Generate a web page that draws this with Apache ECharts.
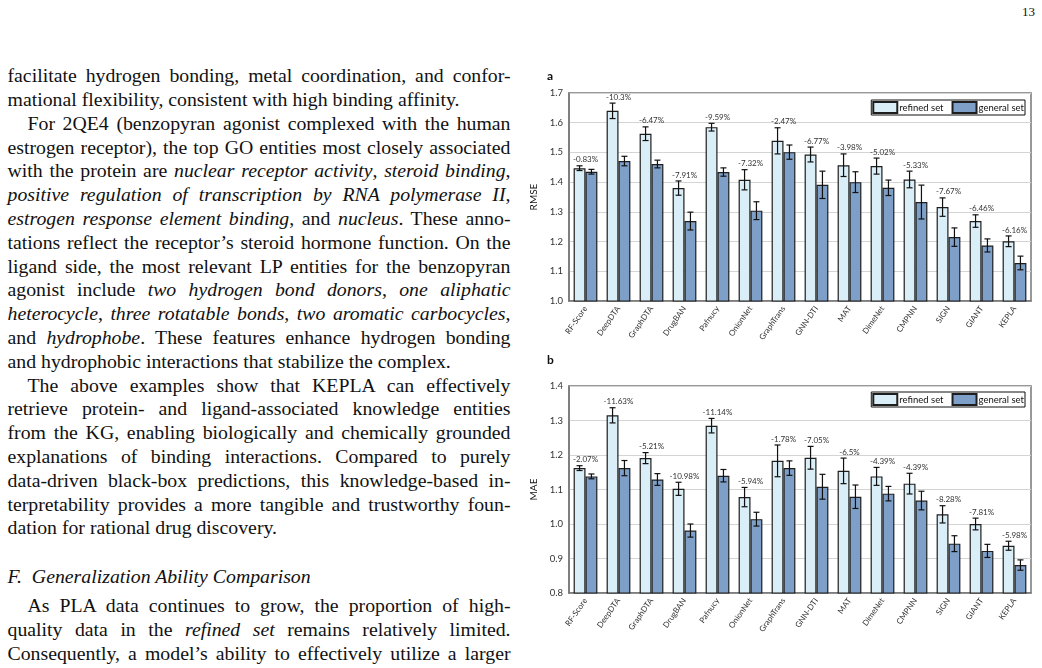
<!DOCTYPE html>
<html>
<head>
<meta charset="utf-8">
<script src="https://cdn.jsdelivr.net/npm/echarts@6/dist/echarts.min.js"></script>
<style>
  html, body { margin: 0; padding: 0; background: #fff; }
  body { width: 1042px; height: 668px; position: relative; overflow: hidden; }
  .ln { position: absolute; left: 7.5px; width: 503px; font-family: "Liberation Serif", "Times New Roman", serif;
        font-size: 19.8px; line-height: 23.8px; color: #111; white-space: normal; }
  .j { text-align: justify; text-align-last: justify; }
  .l { text-align: left; }
  .pg { position: absolute; left: 1000px; width: 35px; top: 4px; text-align: right;
        font-family: "Liberation Serif", serif; font-size: 13px; color: #111; }
  #chart { position: absolute; left: 520px; top: 0; width: 522px; height: 668px; }
</style>
</head>
<body>
<div class="pg">13</div>
<div id="text"></div>
<div id="chart"></div>
<script>
// ---------- page text ----------
const textLines = [
  ['j', 0, 'facilitate hydrogen bonding, metal coordination, and confor-'],
  ['l', 0, 'mational flexibility, consistent with high binding affinity.'],
  ['j', 1, 'For 2QE4 (benzopyran agonist complexed with the human'],
  ['j', 0, 'estrogen receptor), the top GO entities most closely associated'],
  ['j', 0, 'with the protein are <i>nuclear receptor activity</i>, <i>steroid binding</i>,'],
  ['j', 0, '<i>positive regulation of transcription by RNA polymerase II</i>,'],
  ['j', 0, '<i>estrogen response element binding</i>, and <i>nucleus</i>. These anno-'],
  ['j', 0, 'tations reflect the receptor\u2019s steroid hormone function. On the'],
  ['j', 0, 'ligand side, the most relevant LP entities for the benzopyran'],
  ['j', 0, 'agonist include <i>two hydrogen bond donors</i>, <i>one aliphatic</i>'],
  ['j', 0, '<i>heterocycle</i>, <i>three rotatable bonds</i>, <i>two aromatic carbocycles</i>,'],
  ['j', 0, 'and <i>hydrophobe</i>. These features enhance hydrogen bonding'],
  ['l', 0, 'and hydrophobic interactions that stabilize the complex.'],
  ['j', 1, 'The above examples show that KEPLA can effectively'],
  ['j', 0, 'retrieve protein- and ligand-associated knowledge entities'],
  ['j', 0, 'from the KG, enabling biologically and chemically grounded'],
  ['j', 0, 'explanations of binding interactions. Compared to purely'],
  ['j', 0, 'data-driven black-box predictions, this knowledge-based in-'],
  ['j', 0, 'terpretability provides a more tangible and trustworthy foun-'],
  ['l', 0, 'dation for rational drug discovery.'],
  ['l', 0, '<i>F.&nbsp;&nbsp;Generalization Ability Comparison</i>'],
  ['j', 1, 'As PLA data continues to grow, the proportion of high-'],
  ['j', 0, 'quality data in the <i>refined set</i> remains relatively limited.'],
  ['j', 0, 'Consequently, a model\u2019s ability to effectively utilize a larger']
];
const textBaselines = [83,107,131,155,178,202,226,250,274,297,321,345,369,393,416,440,464,488,512,535,584,613,637,661];
(function () {
  const holder = document.getElementById('text');
  textLines.forEach((t, i) => {
    const d = document.createElement('div');
    d.className = 'ln ' + t[0];
    d.style.top = (textBaselines[i] - 18.6) + 'px';
    if (t[1]) d.style.textIndent = '20px';
    d.innerHTML = t[2];
    holder.appendChild(d);
    let ls = 0;
    while (d.offsetHeight > 30 && ls > -1) { ls -= 0.05; d.style.letterSpacing = ls + 'px'; }
  });
})();

// ---------- chart data ----------
const categories = ['RF-Score','DeepDTA','GraphDTA','DrugBAN','Pafnucy','OnionNet','GraphTrans','GNN-DTI','MAT','DimeNet','CMPNN','SIGN','GIANT','KEPLA'];

const rmseRefined    = [1.447,1.640,1.563,1.380,1.585,1.408,1.539,1.493,1.457,1.454,1.409,1.316,1.269,1.201];
const rmseRefinedErr = [0.008,0.026,0.023,0.024,0.013,0.034,0.044,0.025,0.038,0.027,0.028,0.031,0.021,0.018];
const rmseGeneral    = [1.435,1.471,1.461,1.269,1.434,1.304,1.501,1.391,1.400,1.381,1.333,1.215,1.187,1.128];
const rmseGeneralErr = [0.008,0.016,0.013,0.030,0.014,0.030,0.024,0.046,0.035,0.026,0.057,0.031,0.022,0.023];
const rmseChange     = ['-0.83%','-10.3%','-6.47%','-7.91%','-9.59%','-7.32%','-2.47%','-6.77%','-3.98%','-5.02%','-5.33%','-7.67%','-6.46%','-6.16%'];

const maeRefined    = [1.162,1.315,1.191,1.102,1.285,1.078,1.183,1.192,1.154,1.138,1.117,1.028,1.000,0.937];
const maeRefinedErr = [0.007,0.022,0.016,0.019,0.021,0.028,0.046,0.033,0.037,0.026,0.030,0.025,0.017,0.013];
const maeGeneral    = [1.138,1.162,1.129,0.981,1.140,1.014,1.162,1.108,1.079,1.088,1.068,0.943,0.922,0.881];
const maeGeneralErr = [0.007,0.022,0.017,0.019,0.018,0.020,0.021,0.036,0.034,0.021,0.027,0.023,0.019,0.015];
const maeChange     = ['-2.07%','-11.63%','-5.21%','-10.98%','-11.14%','-5.94%','-1.78%','-7.05%','-6.5%','-4.39%','-4.39%','-8.28%','-7.81%','-5.98%'];

const rmseTicks = { min: 1.0, max: 1.7, interval: 0.1 };
const maeTicks  = { min: 0.8, max: 1.4, interval: 0.1 };

// ---------- styles ----------
const FONT = 'Lato, "Open Sans", sans-serif';
const REFINED_COLOR = '#DAEEF7';
const GENERAL_COLOR = '#7E9FC7';
const BAR_BORDER = '#1e1e1e';
const BAR_FRAC = 0.36;

function errSeries(name, grid, vals, errs, side) {
  return {
    type: 'custom', name: name + '-err', xAxisIndex: grid, yAxisIndex: grid, z: 5,
    silent: true, legendHoverLink: false,
    data: vals.map((v, i) => [i, v, errs[i]]),
    renderItem: function (params, api) {
      const i = api.value(0), v = api.value(1), e = api.value(2);
      const bw = api.size([1, 0])[0];
      const cx = api.coord([i, v])[0] + side * bw * BAR_FRAC / 2;
      const yt = api.coord([i, v + e])[1];
      const yb = api.coord([i, v - e])[1];
      const cap = 3;
      const st = { stroke: '#111', lineWidth: 1.2 };
      return { type: 'group', children: [
        { type: 'line', shape: { x1: cx, y1: yt, x2: cx, y2: yb }, style: st },
        { type: 'line', shape: { x1: cx - cap, y1: yt, x2: cx + cap, y2: yt }, style: st },
        { type: 'line', shape: { x1: cx - cap, y1: yb, x2: cx + cap, y2: yb }, style: st }
      ]};
    }
  };
}

function labelSeries(grid, vals, errs, labels) {
  return {
    type: 'custom', name: 'chg' + grid, xAxisIndex: grid, yAxisIndex: grid, z: 6, silent: true,
    data: vals.map((v, i) => [i, v + errs[i]]),
    renderItem: function (params, api) {
      const p = api.coord([api.value(0), api.value(1)]);
      return { type: 'text', x: p[0], y: p[1] - 2,
        style: { text: labels[params.dataIndex], align: 'center', verticalAlign: 'bottom',
                 fontSize: 8, fontFamily: FONT, fill: '#333' } };
    }
  };
}

function barSeries(name, grid, vals, color) {
  return {
    type: 'bar', name: name, xAxisIndex: grid, yAxisIndex: grid,
    barWidth: (BAR_FRAC * 100) + '%', barGap: '0%',
    itemStyle: { color: color, borderColor: BAR_BORDER, borderWidth: 1.2 },
    data: vals
  };
}

function xAxis(grid) {
  return {
    type: 'category', gridIndex: grid, data: categories,
    axisLine: { show: true, lineStyle: { color: '#777', width: 1.5 } },
    axisTick: { show: false },
    axisLabel: { interval: 0, rotate: 55, fontSize: 8, fontFamily: FONT, color: '#333', margin: 6 }
  };
}
function yAxis(grid, ticks, name) {
  return {
    type: 'value', gridIndex: grid, min: ticks.min, max: ticks.max, interval: ticks.interval,
    name: name, nameLocation: 'middle', nameGap: 23,
    nameTextStyle: { fontSize: 10, fontFamily: FONT, color: '#111' },
    axisLine: { show: true, lineStyle: { color: '#777', width: 1.5 } },
    axisTick: { show: false },
    axisLabel: { fontSize: 9.5, fontFamily: FONT, color: '#333', margin: 6, formatter: v => v.toFixed(1) },
    splitLine: { show: true, lineStyle: { color: '#d4d4d4', width: 1 } }
  };
}
function legend(top) {
  return {
    top: top, right: 17, orient: 'horizontal', itemWidth: 24, itemHeight: 11, itemGap: 8,
    padding: [1, 1, 1, 1], borderColor: '#111', borderWidth: 1, backgroundColor: '#fff',
    selectedMode: false, icon: 'rect',
    textStyle: { fontSize: 9.5, fontFamily: FONT, color: '#111', padding: [0, 0, 0, -3] },
    data: ['refined set', 'general set']
  };
}

const chart = echarts.init(document.getElementById('chart'), null, { renderer: 'canvas' });
chart.setOption({
  animation: false,
  title: [
    { text: 'a', left: 22, top: 65, textStyle: { fontSize: 12, fontWeight: 'bold', fontFamily: FONT, color: '#111' } },
    { text: 'b', left: 22, top: 349, textStyle: { fontSize: 12, fontWeight: 'bold', fontFamily: FONT, color: '#111' } }
  ],
  legend: [legend(100), legend(392)],
  grid: [
    { left: 49, top: 93, width: 462, height: 208, show: true, borderColor: '#777', borderWidth: 1.5, containLabel: false },
    { left: 49, top: 386, width: 462, height: 207, show: true, borderColor: '#777', borderWidth: 1.5, containLabel: false }
  ],
  xAxis: [xAxis(0), xAxis(1)],
  yAxis: [yAxis(0, rmseTicks, 'RMSE'), yAxis(1, maeTicks, 'MAE')],
  series: [
    barSeries('refined set', 0, rmseRefined, REFINED_COLOR),
    barSeries('general set', 0, rmseGeneral, GENERAL_COLOR),
    errSeries('refined', 0, rmseRefined, rmseRefinedErr, -1),
    errSeries('general', 0, rmseGeneral, rmseGeneralErr, 1),
    labelSeries(0, rmseRefined, rmseRefinedErr, rmseChange),
    barSeries('refined set', 1, maeRefined, REFINED_COLOR),
    barSeries('general set', 1, maeGeneral, GENERAL_COLOR),
    errSeries('refined', 1, maeRefined, maeRefinedErr, -1),
    errSeries('general', 1, maeGeneral, maeGeneralErr, 1),
    labelSeries(1, maeRefined, maeRefinedErr, maeChange)
  ]
});
</script>
</body>
</html>
